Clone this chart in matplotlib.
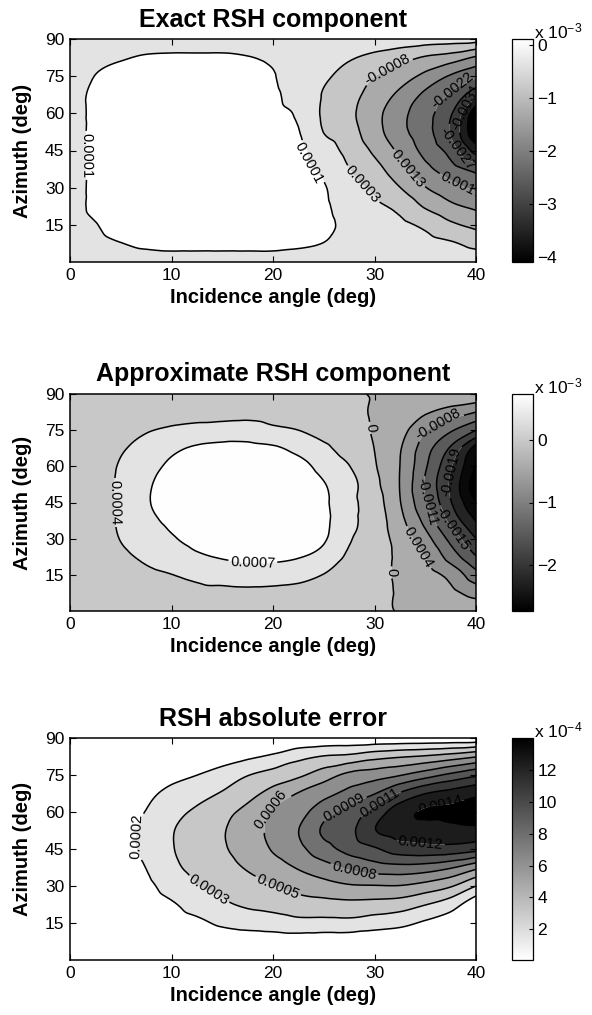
import numpy as np
import matplotlib
matplotlib.use("Agg")
import matplotlib.pyplot as plt
import matplotlib.tri as mtri
from matplotlib.colors import Normalize
from matplotlib.cm import ScalarMappable

plt.rcParams['font.family'] = ['Liberation Sans', 'DejaVu Sans']
plt.rcParams['mathtext.default'] = 'regular'
plt.rcParams['axes.unicode_minus'] = True
plt.rcParams['contour.negative_linestyle'] = 'solid'

# ---------------- data ----------------
incidence_deg = [0, 2.5, 5, 7.5, 10, 12.5, 15, 17.5, 20, 22.5, 25, 27.5, 30, 32.5, 35, 37.5, 40]
azimuth_deg = [0, 7.5, 15, 22.5, 30, 37.5, 45, 52.5, 60, 67.5, 75, 82.5, 90]

# Exact RSH component (x 1e-3), rows = azimuth, cols = incidence
exact_rsh = [
    [0, 0, 0, 0, 0, 0, 0, 0, 0, 0, 0, 0.01, 0, -0.01, -0.02, -0.03, -0.05],
    [0, 0.07, 0.115, 0.164, 0.19, 0.19, 0.19, 0.19, 0.19, 0.16, 0.115, 0.05, -0.02, -0.10, -0.20, -0.30, -0.48],
    [0, 0.11, 0.20, 0.25, 0.27, 0.28, 0.28, 0.28, 0.27, 0.24, 0.20, 0.02, -0.12, -0.25, -0.44, -0.74, -0.94],
    [0, 0.176, 0.24, 0.28, 0.30, 0.30, 0.30, 0.30, 0.29, 0.25, 0.18, -0.08, -0.26, -0.47, -0.87, -1.18, -1.38],
    [0, 0.176, 0.25, 0.29, 0.31, 0.32, 0.32, 0.31, 0.30, 0.24, 0.15, -0.20, -0.43, -0.81, -1.26, -1.58, -1.85],
    [0, 0.176, 0.25, 0.29, 0.31, 0.32, 0.32, 0.31, 0.30, 0.21, 0.05, -0.34, -0.66, -1.12, -1.61, -2.02, -2.36],
    [0, 0.176, 0.25, 0.29, 0.31, 0.32, 0.32, 0.31, 0.29, 0.22, -0.12, -0.50, -0.90, -1.38, -1.90, -2.40, -3.34],
    [0, 0.176, 0.25, 0.29, 0.31, 0.32, 0.31, 0.30, 0.27, 0.14, -0.36, -0.64, -1.10, -1.60, -2.05, -2.72, -4.05],
    [0, 0.176, 0.25, 0.29, 0.31, 0.31, 0.30, 0.28, 0.24, 0.06, -0.42, -0.72, -1.13, -1.60, -2.05, -2.62, -3.95],
    [0, 0.176, 0.25, 0.28, 0.30, 0.30, 0.29, 0.26, 0.20, -0.10, -0.38, -0.66, -1.00, -1.38, -1.85, -2.29, -3.02],
    [0, 0.125, 0.20, 0.24, 0.26, 0.26, 0.26, 0.25, 0.145, -0.15, -0.28, -0.52, -0.81, -1.05, -1.40, -1.80, -2.13],
    [0, 0.06, 0.10, 0.143, 0.155, 0.155, 0.155, 0.13, 0.07, -0.08, -0.12, -0.30, -0.47, -0.65, -0.87, -1.03, -1.35],
    [0, 0, 0, 0, 0, 0, 0, 0, 0, 0, -0.02, -0.03, -0.05, -0.07, -0.10, -0.12, -0.15],
]

# Approximate RSH component (x 1e-3)
approx_rsh = [
    [0.15, 0.15, 0.15, 0.15, 0.15, 0.15, 0.15, 0.15, 0.15, 0.15, 0.13, 0.10, 0.02, -0.03, -0.06, -0.08, -0.10],
    [0.15, 0.17, 0.20, 0.22, 0.24, 0.27, 0.26, 0.27, 0.26, 0.24, 0.20, 0.15, 0.075, -0.05, -0.15, -0.30, -0.52],
    [0.15, 0.18, 0.25, 0.30, 0.345, 0.42, 0.50, 0.55, 0.53, 0.47, 0.34, 0.20, 0.087, -0.08, -0.25, -0.50, -1.00],
    [0.15, 0.20, 0.30, 0.394, 0.50, 0.66, 0.75, 0.80, 0.80, 0.74, 0.60, 0.29, 0.171, -0.11, -0.39, -0.92, -1.48],
    [0.15, 0.20, 0.36, 0.50, 0.68, 0.85, 0.95, 1.00, 0.98, 0.93, 0.76, 0.384, 0.171, -0.17, -0.62, -1.24, -1.87],
    [0.15, 0.20, 0.40, 0.62, 0.80, 0.95, 1.05, 1.10, 1.08, 1.00, 0.80, 0.443, 0.184, -0.28, -0.87, -1.60, -2.26],
    [0.15, 0.20, 0.41, 0.68, 0.88, 1.00, 1.08, 1.12, 1.10, 1.00, 0.78, 0.456, 0.145, -0.37, -1.08, -1.84, -2.62],
    [0.15, 0.20, 0.41, 0.66, 0.88, 1.00, 1.07, 1.10, 1.07, 0.95, 0.74, 0.48, 0.075, -0.40, -1.17, -1.93, -2.85],
    [0.15, 0.20, 0.38, 0.58, 0.79, 0.93, 1.00, 1.02, 0.98, 0.84, 0.60, 0.36, 0.012, -0.39, -1.08, -1.82, -2.65],
    [0.15, 0.20, 0.32, 0.45, 0.64, 0.77, 0.82, 0.82, 0.77, 0.62, 0.42, 0.20, -0.025, -0.36, -0.97, -1.55, -2.40],
    [0.15, 0.18, 0.25, 0.33, 0.39, 0.45, 0.50, 0.52, 0.42, 0.35, 0.22, 0.14, -0.05, -0.25, -0.73, -1.08, -1.50],
    [0.15, 0.17, 0.20, 0.22, 0.25, 0.24, 0.22, 0.23, 0.20, 0.17, 0.10, 0.06, -0.05, -0.15, -0.34, -0.55, -0.76],
    [0.15, 0.15, 0.15, 0.14, 0.13, 0.13, 0.12, 0.11, 0.10, 0.09, 0.05, 0.00, -0.03, -0.04, -0.05, -0.06, -0.07],
]

# RSH absolute error (x 1e-4)
abs_error = [
    [0, 0.03, 0.05, 0.1, 0.1, 0.1, 0.1, 0.1, 0.1, 0.1, 0.1, 0.1, 0.1, 0.1, 0.1, 0.1, 0.1],
    [0, 0.12, 0.25, 0.35, 0.5, 0.6, 0.7, 0.75, 0.8, 0.8, 0.7, 0.7, 0.6, 0.5, 0.4, 0.3, 0.3],
    [0, 0.22, 0.45, 0.65, 1.0, 1.3, 1.86, 2.2, 2.4, 2.7, 2.67, 2.7, 2.36, 2.04, 1.4, 0.9, 0.4],
    [0, 0.35, 0.7, 0.95, 1.45, 2.2, 2.9, 3.39, 3.68, 4.05, 4.17, 4.28, 4.17, 3.95, 3.22, 2.31, 0.6],
    [0, 0.48, 0.95, 1.3, 2.2, 3.1, 3.6, 4.1, 4.65, 5.23, 5.68, 6.1, 6.18, 6.2, 5.69, 4.87, 3.16],
    [0, 0.58, 1.15, 1.63, 2.8, 3.6, 4.2, 4.85, 5.6, 6.4, 7.21, 8.06, 8.64, 8.87, 8.67, 7.98, 6.67],
    [0, 0.65, 1.3, 1.85, 3.05, 3.85, 4.55, 5.3, 6.4, 7.4, 8.79, 9.9, 10.74, 11.7, 11.94, 11.87, 11.39],
    [0, 0.65, 1.3, 1.85, 3.05, 3.8, 4.6, 5.4, 6.7, 7.8, 9.6, 10.5, 12.4, 13.2, 13.29, 13.56, 13.66],
    [0, 0.6, 1.2, 1.65, 2.7, 3.4, 4.3, 5.1, 6.45, 7.2, 8.8, 9.9, 11.5, 13.4, 14.2, 14.3, 14.6],
    [0, 0.48, 0.95, 1.3, 2.0, 2.6, 3.3, 4.18, 5.25, 6.35, 7.27, 8.3, 9.3, 11.1, 12.45, 13.06, 13.67],
    [0, 0.3, 0.6, 0.8, 1.2, 1.6, 2.2, 3.1, 3.77, 4.42, 5.52, 6.67, 7.12, 7.72, 8.69, 9.72, 10.67],
    [0, 0.15, 0.3, 0.4, 0.6, 0.8, 1.0, 1.36, 1.85, 2.69, 3.25, 3.52, 4.15, 4.55, 4.89, 5.42, 6.14],
    [0, 0.03, 0.05, 0.1, 0.15, 0.15, 0.2, 0.2, 0.25, 0.3, 0.3, 0.3, 0.3, 0.3, 0.3, 0.3, 0.3],
]

# contour levels, their labels and colour-bar ranges
exact_levels = [-3.62, -3.15, -2.68, -2.22, -1.75, -1.28, -0.82, -0.35, 0.12]
exact_label_text = ['-0.0036', '-0.0031', '-0.0027', '-0.0022', '0.0017', '0.0013', '-0.0008', '0.0003', '0.0001']
exact_range = [-4.09, 0.12]
exact_cticks = [-4, -3, -2, -1, 0]

approx_levels = [-2.61, -2.24, -1.87, -1.50, -1.13, -0.76, -0.39, -0.02, 0.35, 0.72]
approx_label_text = ['-0.0026', '-0.0022', '-0.0019', '-0.0015', '-0.0011', '-0.0008', '0.0004', '0', '0.0004', '0.0007']
approx_range = [-2.74, 0.74]
approx_cticks = [-2, -1, 0]

error_levels = [1.61, 3.16, 4.71, 6.27, 7.82, 9.37, 10.93, 12.48, 14.03]
error_label_text = ['0.0002', '0.0003', '0.0005', '0.0006', '0.0008', '0.0009', '0.0011', '0.0012', '0.0014']
error_range = [0.06, 14.03]
error_cticks = [2, 4, 6, 8, 10, 12]

# ---------------- layout / style ----------------
W, H = 592, 1015
AX_LEFT, AX_RIGHT = 70, 476
CB_LEFT, CB_RIGHT = 512, 533

panels = [
    dict(title='Exact RSH component', z=exact_rsh, levels=exact_levels, texts=exact_label_text,
         rng=exact_range, cticks=exact_cticks, cmap='gray', exp='x 10$^{-3}$', top=39, bottom=262,
         labels=[(8, (1.5, 43)), (8, (23.6, 40)), (7, (28.6, 30)), (6, (31.0, 80.5)),
                 (3, (37.0, 72.5)), (1, (39.0, 62.5)), (5, (33.3, 37.5)), (2, (38.3, 46)),
                 (4, (38.6, 31.5))]),
    dict(title='Approximate RSH component', z=approx_rsh, levels=approx_levels, texts=approx_label_text,
         rng=approx_range, cticks=approx_cticks, cmap='gray', exp='x 10$^{-3}$', top=394, bottom=611,
         labels=[(8, (4.3, 45)), (9, (18, 19)), (7, (29.7, 76)), (7, (31.7, 16)),
                 (5, (36.2, 78.5)), (6, (34.8, 28)), (2, (37.4, 58)), (4, (35.0, 45)),
                 (3, (38.0, 35))]),
    dict(title='RSH absolute error', z=abs_error, levels=error_levels, texts=error_label_text,
         rng=error_range, cticks=error_cticks, cmap='gray_r', exp='x 10$^{-4}$', top=738, bottom=960,
         labels=[(0, (6.5, 50)), (1, (13.5, 27)), (2, (20.5, 30)), (3, (19.5, 62)),
                 (4, (28.0, 36.5)), (5, (27.0, 62)), (6, (30.5, 64)), (7, (34.5, 46.5)),
                 (8, (36.5, 64.5))]),
]

# regular-grid triangulation (two triangles per cell) used to draw smooth contours
nx, ny = len(incidence_deg), len(azimuth_deg)
GX, GY = np.meshgrid(np.array(incidence_deg, float), np.array(azimuth_deg, float))
tris = []
for j in range(ny - 1):
    for i in range(nx - 1):
        a = j * nx + i
        b, c, d = a + 1, a + nx, a + nx + 1
        tris.append([a, b, d])
        tris.append([a, d, c])
base_tri = mtri.Triangulation(GX.ravel(), GY.ravel(), np.array(tris))
refiner = mtri.UniformTriRefiner(base_tri)

fig = plt.figure(figsize=(W / 100, H / 100), dpi=100)
fig.patch.set_facecolor('white')

for p in panels:
    ax = fig.add_axes([AX_LEFT / W, 1 - p['bottom'] / H, (AX_RIGHT - AX_LEFT) / W, (p['bottom'] - p['top']) / H])
    cax = fig.add_axes([CB_LEFT / W, 1 - p['bottom'] / H, (CB_RIGHT - CB_LEFT) / W, (p['bottom'] - p['top']) / H])

    Z = np.array(p['z'], dtype=float)
    interp = mtri.CubicTriInterpolator(base_tri, Z.ravel(), kind='geom')
    tri_f, z_f = refiner.refine_field(Z.ravel(), triinterpolator=interp, subdiv=3)

    lines = list(p['levels'])
    vmin, vmax = p['rng']
    norm = Normalize(vmin, vmax)
    cmap = plt.get_cmap(p['cmap'])

    fill_levels = [min(z_f.min(), vmin) - 1.0] + lines + [max(z_f.max(), vmax) + 1.0]
    lower_bounds = [vmin] + lines
    band_colors = [cmap(norm(b)) for b in lower_bounds]
    ax.tricontourf(tri_f, z_f, levels=fill_levels, colors=band_colors, antialiased=True)

    sets = []
    for lev, txt in zip(lines, p['texts']):
        cs = ax.tricontour(tri_f, z_f, levels=[lev], colors='k', linewidths=1.1, linestyles='solid')
        sets.append((cs, txt))
    for idx, pos in p['labels']:
        cs, txt = sets[idx]
        ax.clabel(cs, manual=[pos], fmt={cs.levels[0]: txt}, fontsize=10.5,
                  inline=True, inline_spacing=2, colors='k')

    ax.set_xlim(0, 40)
    ax.set_ylim(0, 90)
    ax.set_xticks([0, 10, 20, 30, 40])
    ax.set_yticks([15, 30, 45, 60, 75, 90])
    ax.tick_params(direction='in', length=4, width=0.8, labelsize=12.5, pad=4,
                   top=True, right=True)
    for s in ax.spines.values():
        s.set_linewidth(1.1)
    ax.set_title(p['title'], fontsize=18, fontweight='bold', pad=9)
    ax.set_xlabel('Incidence angle (deg)', fontsize=14.5, fontweight='bold', labelpad=4)
    ax.set_ylabel('Azimuth (deg)', fontsize=14.5, fontweight='bold', labelpad=9)

    sm = ScalarMappable(norm=norm, cmap=cmap)
    cb = fig.colorbar(sm, cax=cax)
    cb.set_ticks(p['cticks'])
    cb.outline.set_linewidth(0.9)
    cax.tick_params(direction='in', length=3, width=0.8, labelsize=12.5, pad=3, right=True, left=False)
    fig.text(534 / W, 1 - (p['top'] - 8) / H, p['exp'], fontsize=12.5, ha='left', va='center')

fig.savefig('out.png', dpi=100)
